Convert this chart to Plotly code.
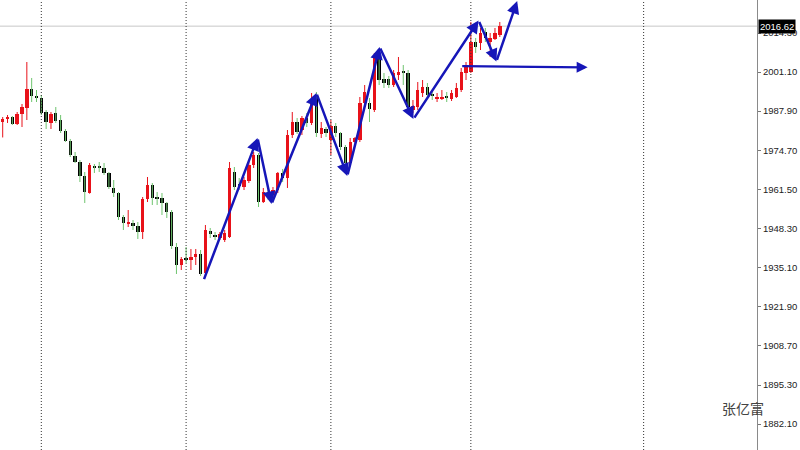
import plotly.graph_objects as go

# ---------------- data ----------------
opens = [1984.22, 1985.24, 1985.91, 1983.55, 1986.93, 1988.96, 1995.38, 1993.01, 1992.34, 1987.6,
         1983.89, 1987.27, 1984.9, 1981.18, 1977.8, 1972.73, 1970.7, 1965.97, 1960.23, 1969.01,
         1969.1, 1968.68, 1966.99, 1961.92, 1960.23, 1952.11, 1949.75, 1950.09, 1949.07, 1947.04,
         1958.2, 1962.93, 1958.54, 1958.54, 1956.85, 1953.8, 1941.97, 1935.89, 1937.92, 1937.58,
         1938.59, 1939.61, 1933.19, 1947.38, 1946.03, 1945.02, 1944.34, 1945.35, 1967.32, 1963.27,
         1962.25, 1964.28, 1969.69, 1973.07, 1957.18, 1960.23, 1959.55, 1961.24, 1966.99, 1965.3,
         1979.83, 1984.22, 1981.52, 1985.58, 1983.89, 1993.35, 1980.17, 1981.86, 1978.14, 1982.87,
         1980.51, 1975.77, 1970.37, 1977.46, 1978.14, 1990.65, 1990.65, 1988.28, 2005.86, 1998.76,
         1998.76, 1996.73, 2000.11, 2001.12, 2000.79, 1988.28, 1989.29, 1994.03, 1996.05, 1993.69,
         1992.0, 1992.0, 1992.67, 1992.0, 1992.67, 1995.04, 2000.79, 2001.12, 2011.26, 2010.93,
         2014.64, 2011.26, 2012.28, 2013.63]
highs = [1985.91, 1986.59, 1986.25, 1987.6, 1990.31, 2004.5, 1999.1, 1995.04, 1993.35, 1988.28,
         1987.6, 1989.29, 1986.59, 1981.86, 1978.48, 1974.08, 1971.38, 1967.32, 1970.37, 1970.03,
         1970.7, 1970.37, 1967.32, 1964.62, 1960.56, 1952.79, 1954.48, 1951.1, 1950.42, 1958.87,
         1965.63, 1963.61, 1960.56, 1960.23, 1957.18, 1954.48, 1943.33, 1938.59, 1941.97, 1941.3,
         1941.3, 1940.96, 1949.41, 1948.4, 1947.04, 1947.04, 1947.72, 1970.7, 1969.01, 1965.3,
         1965.63, 1970.7, 1974.08, 1973.75, 1961.92, 1961.24, 1962.25, 1967.32, 1968.34, 1981.52,
         1987.6, 1985.58, 1986.25, 1987.27, 1994.03, 1994.36, 1984.22, 1982.53, 1984.9, 1983.89,
         1980.84, 1976.45, 1978.82, 1979.15, 1992.67, 1996.73, 1992.34, 2007.55, 2006.87, 2000.79,
         1999.77, 2001.8, 2006.19, 2003.49, 2001.8, 1991.66, 1997.74, 1998.42, 1997.41, 1995.04,
         1994.03, 1995.04, 1994.36, 1995.04, 1997.41, 2002.48, 2004.5, 2018.02, 2012.62, 2016.0,
         2016.0, 2014.31, 2016.0, 2018.02]
lows = [1979.0, 1983.89, 1983.21, 1983.21, 1982.53, 1984.9, 1990.98, 1990.98, 1986.59, 1981.86,
        1981.86, 1983.89, 1980.51, 1977.46, 1972.39, 1970.37, 1963.94, 1956.85, 1960.0, 1966.99,
        1967.32, 1966.31, 1961.58, 1958.87, 1951.1, 1947.72, 1948.73, 1947.72, 1944.68, 1944.68,
        1957.18, 1956.17, 1956.17, 1952.79, 1951.78, 1941.3, 1932.85, 1934.2, 1936.57, 1934.2,
        1935.89, 1932.17, 1932.51, 1945.02, 1944.34, 1944.34, 1943.66, 1945.02, 1961.24, 1961.24,
        1961.24, 1963.61, 1968.68, 1955.49, 1956.85, 1957.86, 1958.87, 1960.23, 1963.94, 1961.92,
        1978.82, 1980.17, 1979.83, 1982.53, 1983.21, 1979.15, 1978.82, 1979.15, 1973.07, 1979.15,
        1974.76, 1969.01, 1969.69, 1977.13, 1977.46, 1989.29, 1984.22, 1987.6, 1996.73, 1995.72,
        1995.72, 1996.05, 1998.42, 1996.73, 1988.96, 1987.27, 1988.28, 1992.67, 1992.67, 1991.66,
        1990.98, 1991.66, 1990.98, 1991.32, 1992.34, 1994.36, 1998.42, 2000.79, 2007.55, 2008.56,
        2011.26, 2006.19, 2011.94, 2012.95]
closes = [1985.24, 1985.91, 1983.55, 1986.93, 1989.29, 1995.38, 1993.01, 1992.34, 1987.27, 1984.22,
          1986.93, 1984.56, 1981.18, 1977.8, 1973.07, 1970.7, 1965.97, 1960.56, 1969.69, 1968.68,
          1968.9, 1966.99, 1962.25, 1960.23, 1952.11, 1950.09, 1950.42, 1949.07, 1947.04, 1958.2,
          1962.93, 1958.54, 1958.2, 1956.85, 1953.8, 1942.31, 1935.89, 1937.92, 1937.58, 1938.59,
          1939.61, 1932.85, 1947.72, 1946.37, 1945.69, 1946.37, 1946.71, 1968.68, 1962.25, 1962.59,
          1964.62, 1969.69, 1973.07, 1957.18, 1960.56, 1958.87, 1961.24, 1966.99, 1965.3, 1979.83,
          1984.22, 1980.84, 1985.58, 1983.89, 1991.66, 1980.51, 1982.2, 1980.51, 1982.87, 1980.51,
          1975.77, 1970.37, 1977.46, 1978.82, 1990.65, 1994.36, 1988.62, 2005.86, 1998.42, 1997.41,
          1996.73, 2000.79, 2001.12, 2000.79, 1989.29, 1989.63, 1995.04, 1996.05, 1993.35, 1993.01,
          1992.67, 1992.34, 1992.34, 1994.03, 1995.72, 2001.12, 2003.49, 2011.26, 2009.57, 2014.31,
          2012.62, 2012.62, 2014.31, 2016.62]

tick_values = [2014.30, 2001.10, 1987.90, 1974.70, 1961.50, 1948.30, 1935.10, 1921.90, 1908.70, 1895.30, 1882.10]
tick_labels = ["2014.30", "2001.10", "1987.90", "1974.70", "1961.50", "1948.30", "1935.10",
               "1921.90", "1908.70", "1895.30", "1882.10"]
last_price = 2016.62
separator_bars = [8, 38, 68, 97, 132.8]

# hand-drawn trend arrows (bar index, price)
zig_x = [41.6, 52.8, 55.7, 65.0, 71.4, 78.1, 85.1, 98.6, 102.3, 106.6]
zig_y = [1930.6, 1978.8, 1956.5, 1994.0, 1966.0, 2009.6, 1985.2, 2018.5, 2004.7, 2025.1]
level_x = [94.9, 121.2]
level_y = [2003.1, 2002.7]
watermark = "张亿富"

# ---------------- figure ----------------
RED = "#e8121a"
GREEN = "#6fc46f"
BLUE = "#1616b8"

idx = list(range(len(opens)))
fig = go.Figure()

# wicks
for bull, col in ((True, RED), (False, GREEN)):
    wx, wy = [], []
    for i in idx:
        if (closes[i] >= opens[i]) == bull:
            wx += [i, i, None]
            wy += [lows[i], highs[i], None]
    fig.add_trace(go.Scatter(x=wx, y=wy, mode="lines", line=dict(color=col, width=1),
                             hoverinfo="skip", showlegend=False))

# bodies
bases = [min(o, c) for o, c in zip(opens, closes)]
heights = [max(abs(c - o), 0.35) for o, c in zip(opens, closes)]
colors = [RED if c >= o else "#000000" for o, c in zip(opens, closes)]
fig.add_trace(go.Bar(x=idx, y=heights, base=bases, width=0.7, marker=dict(color=colors, line=dict(width=0)),
                     hoverinfo="skip", showlegend=False))

shapes = []
for sx in separator_bars:
    shapes.append(dict(type="line", xref="x", yref="paper", x0=sx, x1=sx, y0=0, y1=1,
                       line=dict(color="#333333", width=1, dash="1px,2px")))
shapes.append(dict(type="line", xref="paper", yref="y", x0=0, x1=1, y0=last_price, y1=last_price,
                   line=dict(color="#c8c8c8", width=1), layer="below"))

annotations = []
for k in range(1, len(zig_x)):
    annotations.append(dict(x=zig_x[k], y=zig_y[k], ax=zig_x[k - 1], ay=zig_y[k - 1],
                            xref="x", yref="y", axref="x", ayref="y", text="", showarrow=True,
                            arrowhead=2, arrowsize=1, arrowwidth=2.5, arrowcolor=BLUE, standoff=0))
annotations.append(dict(x=level_x[1], y=level_y[1], ax=level_x[0], ay=level_y[0],
                        xref="x", yref="y", axref="x", ayref="y", text="", showarrow=True,
                        arrowhead=2, arrowsize=1, arrowwidth=2.2, arrowcolor=BLUE, standoff=0))
annotations.append(dict(x=1, xref="paper", xanchor="left", xshift=1, y=last_price, yref="y",
                        text=f"{last_price:.2f}", showarrow=False,
                        bgcolor="#000000", font=dict(color="#ffffff", size=9.5, family="Liberation Sans"),
                        borderpad=1))
annotations.append(dict(x=153.4, y=1887.6, xref="x", yref="y", text=watermark, showarrow=False,
                        font=dict(color="#444444", size=14, family="Noto Sans CJK SC")))

fig.update_layout(
    width=800, height=450,
    margin=dict(l=0, r=43, t=0, b=0),
    paper_bgcolor="#ffffff", plot_bgcolor="#ffffff",
    showlegend=False, bargap=0,
    shapes=shapes, annotations=annotations,
    xaxis=dict(range=[-0.56, 156.29], visible=False, fixedrange=True),
    yaxis=dict(range=[1873.36, 2025.46], side="right", tickvals=tick_values, ticktext=tick_labels,
               ticks="outside", ticklen=3, tickcolor="#777777", showline=True, linecolor="#8a8a8a",
               linewidth=1, showgrid=False, zeroline=False, automargin=False,
               tickfont=dict(size=9.5, color="#222222", family="Liberation Sans")),
)

fig.write_html("out.html", config={"displayModeBar": False},
               post_script="document.body.style.margin='0';document.body.style.overflow='hidden';")
